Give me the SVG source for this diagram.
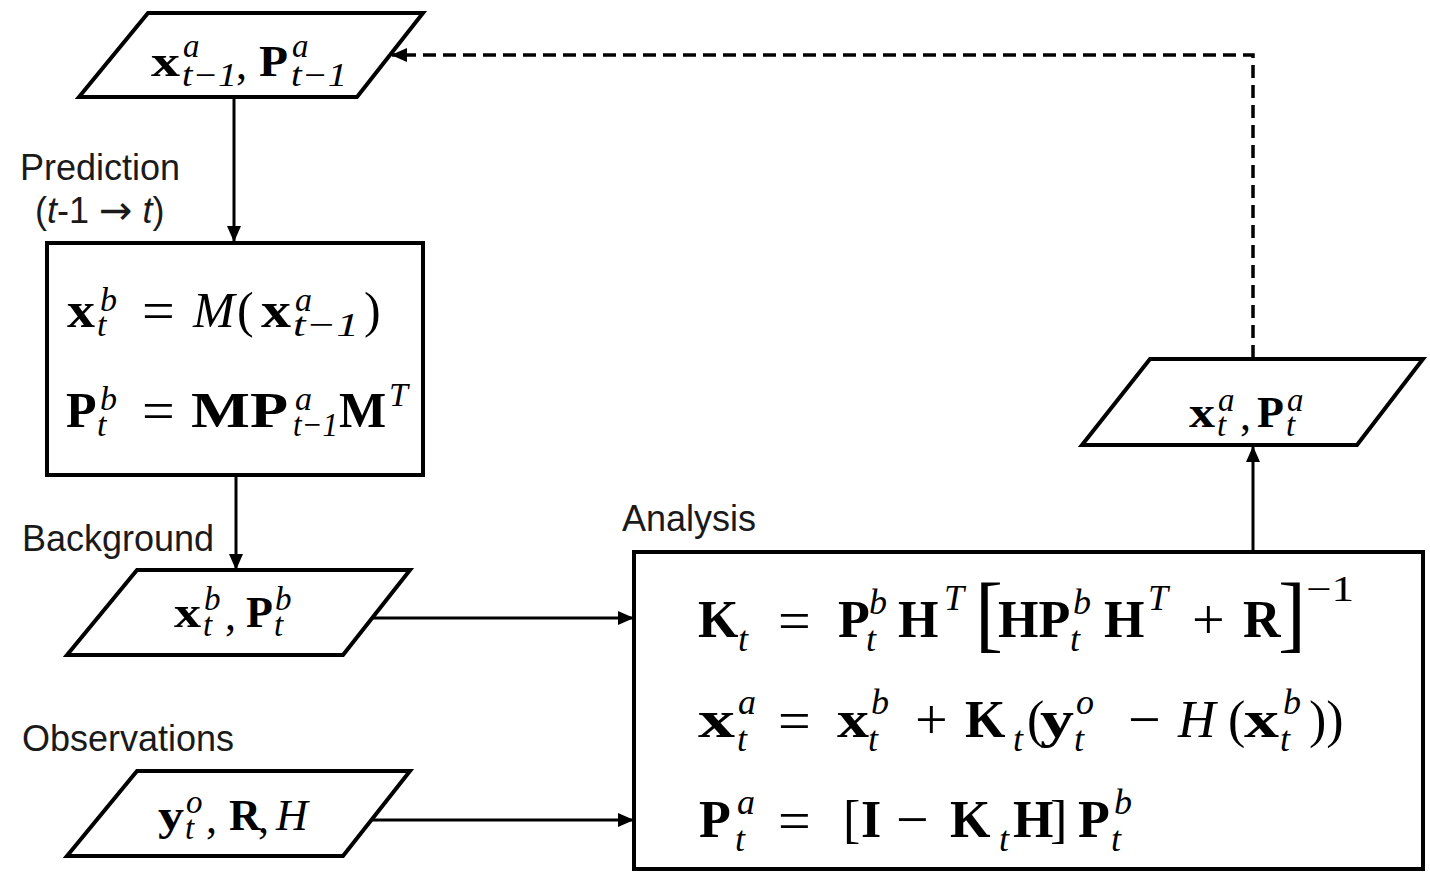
<svg xmlns="http://www.w3.org/2000/svg" width="1430" height="872" viewBox="0 0 1430 872">
<style>
.shape{fill:#fff;stroke:#000;stroke-width:4;stroke-linejoin:miter}
.conn{fill:none;stroke:#000;stroke-width:3}
.dash{stroke-dasharray:13 7;stroke-width:3.5}
.lbl{font-family:"Liberation Sans",Arial,sans-serif;font-size:36px;fill:#1a1a1a}
.arr{font-family:"DejaVu Sans",sans-serif;font-size:40px}
.m{font-family:"Liberation Serif","DejaVu Serif",serif;fill:#000}
.b{font-weight:bold}
.i{font-style:italic}
.L{font-size:52px}
.S{font-size:36px}
.E{font-size:58px}
.Br{font-size:84px}
.P{font-size:50px}
.PS{font-size:34px}
.Q{font-size:44px}
.QS{font-size:33px}
</style>
<defs>
<marker id="ah" markerUnits="userSpaceOnUse" markerWidth="16" markerHeight="14" refX="15" refY="7" orient="auto">
<path d="M0,0 L16,7 L0,14 Z" fill="#000"/>
</marker>
</defs>
<rect width="1430" height="872" fill="#fff"/>

<g id="connectors">
<line class="conn" x1="234" y1="98" x2="234" y2="241" marker-end="url(#ah)"/>
<line class="conn" x1="236" y1="475" x2="236" y2="569" marker-end="url(#ah)"/>
<line class="conn" x1="372" y1="618" x2="633" y2="618" marker-end="url(#ah)"/>
<line class="conn" x1="371" y1="820" x2="633" y2="820" marker-end="url(#ah)"/>
<line class="conn" x1="1253" y1="551" x2="1253" y2="447" marker-end="url(#ah)"/>
<polyline class="conn dash" points="1253,358 1253,55 392,55" marker-end="url(#ah)"/>
</g>

<g id="labels">
<text class="lbl" x="20" y="180">Prediction</text>
<text class="lbl" x="35" y="223">(<tspan font-style="italic">t</tspan>-1 <tspan class="arr" dy="1">→</tspan><tspan dy="-1"> </tspan><tspan font-style="italic">t</tspan>)</text>
<text class="lbl" x="22" y="551">Background</text>
<text class="lbl" x="22" y="751">Observations</text>
<text class="lbl" x="622" y="531">Analysis</text>
</g>

<g id="node-prev-analysis">
<polygon class="shape" points="148,13 423,13 357,97 79,97"/>
<text class="m b Q" x="151" y="76" textLength="29" lengthAdjust="spacingAndGlyphs">x</text>
<text class="m i QS" x="183" y="57">a</text>
<text class="m i QS" x="182" y="86" textLength="55" lengthAdjust="spacingAndGlyphs">t−1</text>
<text class="m Q" x="236" y="79">,</text>
<text class="m b Q" x="259" y="76" textLength="29" lengthAdjust="spacingAndGlyphs">P</text>
<text class="m i QS" x="292" y="57">a</text>
<text class="m i QS" x="291" y="86" textLength="56" lengthAdjust="spacingAndGlyphs">t−1</text>
</g>

<g id="node-prediction">
<rect class="shape" x="47" y="243" width="376" height="232"/>
<text class="m b P" x="67" y="327" textLength="28" lengthAdjust="spacingAndGlyphs">x</text>
<text class="m i PS" x="100" y="311">b</text>
<text class="m i PS" x="97" y="336">t</text>
<text class="m E" x="142" y="330">=</text>
<text class="m i P" x="193" y="327">M</text>
<text class="m P" x="237" y="327">(</text>
<text class="m b P" x="261" y="327" textLength="30" lengthAdjust="spacingAndGlyphs">x</text>
<text class="m i PS" x="295" y="311">a</text>
<text class="m i PS" x="293" y="336" textLength="66" lengthAdjust="spacingAndGlyphs">t−1</text>
<text class="m P" x="364" y="327">)</text>
<text class="m b P" x="66" y="427">P</text>
<text class="m i PS" x="100" y="410">b</text>
<text class="m i PS" x="97" y="436">t</text>
<text class="m E" x="142" y="430">=</text>
<text class="m b P" x="191" y="427" textLength="97" lengthAdjust="spacingAndGlyphs">MP</text>
<text class="m i PS" x="295" y="410">a</text>
<text class="m i PS" x="293" y="436" textLength="45" lengthAdjust="spacingAndGlyphs">t−1</text>
<text class="m b P" x="339" y="427">M</text>
<text class="m i PS" x="389" y="406">T</text>
</g>

<g id="node-background">
<polygon class="shape" points="137,570 410,570 343,655 67,655"/>
<text class="m b Q" x="174" y="627" textLength="27" lengthAdjust="spacingAndGlyphs">x</text>
<text class="m i QS" x="204" y="610">b</text>
<text class="m i QS" x="203" y="636">t</text>
<text class="m Q" x="225" y="630">,</text>
<text class="m b Q" x="246" y="627">P</text>
<text class="m i QS" x="275" y="610">b</text>
<text class="m i QS" x="274" y="636">t</text>
</g>

<g id="node-observations">
<polygon class="shape" points="137,771 410,771 343,856 67,856"/>
<text class="m b Q" x="158" y="830" textLength="26" lengthAdjust="spacingAndGlyphs">y</text>
<text class="m i QS" x="186" y="813">o</text>
<text class="m i QS" x="185" y="839">t</text>
<text class="m Q" x="206" y="833">,</text>
<text class="m b Q" x="229" y="830">R</text>
<text class="m Q" x="258" y="833">,</text>
<text class="m i Q" x="276" y="830">H</text>
</g>

<g id="node-analysis-out">
<polygon class="shape" points="1150,359 1423,359 1357,445 1082,445"/>
<text class="m b Q" x="1189" y="427" textLength="26" lengthAdjust="spacingAndGlyphs">x</text>
<text class="m i QS" x="1218" y="411">a</text>
<text class="m i QS" x="1217" y="436">t</text>
<text class="m Q" x="1240" y="430">,</text>
<text class="m b Q" x="1257" y="427">P</text>
<text class="m i QS" x="1287" y="411">a</text>
<text class="m i QS" x="1286" y="436">t</text>
</g>

<g id="node-analysis">
<rect class="shape" x="634" y="552" width="789" height="317"/>
<!-- line 1 -->
<text class="m b L" x="698" y="637">K</text>
<text class="m i S" x="738" y="651">t</text>
<text class="m E" x="778" y="640">=</text>
<text class="m b L" x="838" y="637">P</text>
<text class="m i S" x="869" y="614">b</text>
<text class="m i S" x="866" y="651">t</text>
<text class="m b L" x="898" y="637">H</text>
<text class="m i S" x="944" y="610">T</text>
<text class="m Br" x="975" y="642">[</text>
<text class="m b L" x="998" y="637">HP</text>
<text class="m i S" x="1073" y="614">b</text>
<text class="m i S" x="1070" y="651">t</text>
<text class="m b L" x="1104" y="637">H</text>
<text class="m i S" x="1148" y="610">T</text>
<text class="m E" x="1192" y="639">+</text>
<text class="m b L" x="1243" y="637">R</text>
<text class="m Br" x="1278" y="642">]</text>
<text class="m S" x="1306" y="601" textLength="48" lengthAdjust="spacingAndGlyphs">−1</text>
<!-- line 2 -->
<text class="m b L" x="698" y="737" textLength="37" lengthAdjust="spacingAndGlyphs">x</text>
<text class="m i S" x="738" y="714">a</text>
<text class="m i S" x="737" y="751">t</text>
<text class="m E" x="778" y="740">=</text>
<text class="m b L" x="837" y="737" textLength="32" lengthAdjust="spacingAndGlyphs">x</text>
<text class="m i S" x="871" y="714">b</text>
<text class="m i S" x="868" y="751">t</text>
<text class="m E" x="915" y="739">+</text>
<text class="m b L" x="965" y="737">K</text>
<text class="m i S" x="1013" y="751">t</text>
<text class="m L" x="1027" y="737">(</text>
<text class="m b L" x="1040" y="737" textLength="34" lengthAdjust="spacingAndGlyphs">y</text>
<text class="m i S" x="1076" y="714">o</text>
<text class="m i S" x="1074" y="751">t</text>
<text class="m E" x="1128" y="739">−</text>
<text class="m i L" x="1178" y="737">H</text>
<text class="m L" x="1228" y="737">(</text>
<text class="m b L" x="1244" y="737" textLength="35" lengthAdjust="spacingAndGlyphs">x</text>
<text class="m i S" x="1283" y="714">b</text>
<text class="m i S" x="1280" y="751">t</text>
<text class="m L" x="1309" y="737">))</text>
<!-- line 3 -->
<text class="m b L" x="699" y="837">P</text>
<text class="m i S" x="737" y="814">a</text>
<text class="m i S" x="735" y="851">t</text>
<text class="m E" x="778" y="840">=</text>
<text class="m L" x="843" y="837">[</text>
<text class="m b L" x="861" y="837">I</text>
<text class="m E" x="896" y="839">−</text>
<text class="m b L" x="950" y="837">K</text>
<text class="m i S" x="999" y="851">t</text>
<text class="m b L" x="1013" y="837">H</text>
<text class="m L" x="1050" y="837">]</text>
<text class="m b L" x="1078" y="837">P</text>
<text class="m i S" x="1114" y="814">b</text>
<text class="m i S" x="1111" y="851">t</text>
</g>
</svg>
